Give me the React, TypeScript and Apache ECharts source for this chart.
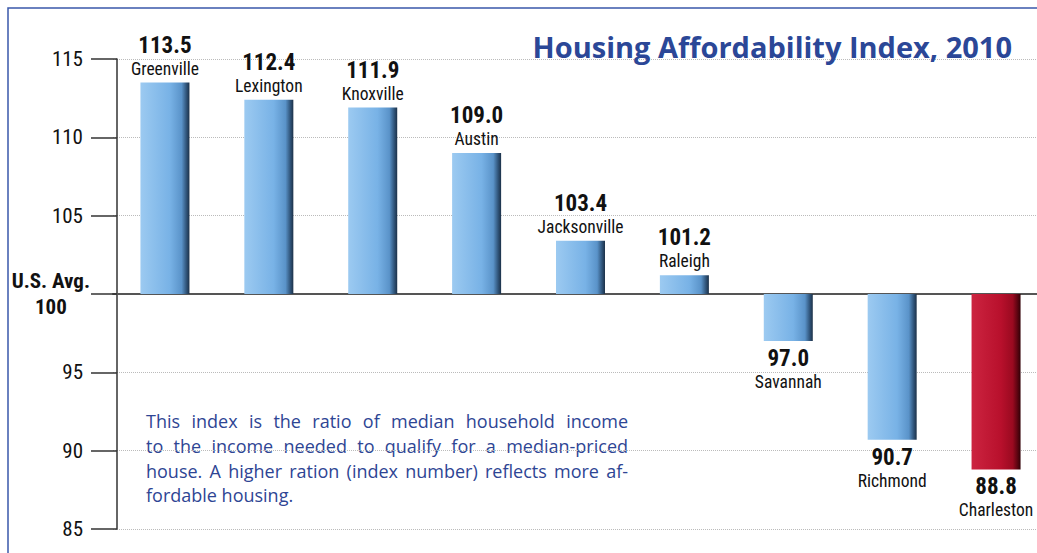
import React, { useEffect, useRef } from "react";
import * as echarts from "echarts";

const categories = ["Greenville", "Lexington", "Knoxville", "Austin", "Jacksonville", "Raleigh", "Savannah", "Richmond", "Charleston"];
const values = [113.5, 112.4, 111.9, 109.0, 103.4, 101.2, 97.0, 90.7, 88.8];
const usAverage = 100;
const highlighted = "Charleston";
const yMin = 85;
const yMax = 115;
const yStep = 5;
const titleText = "Housing Affordability Index, 2010";
const noteLines = [
  "This index is the ratio of median household income",
  "to the income needed to qualify for a median-priced",
  "house. A higher ration (index number) reflects more af-",
  "fordable housing.",
];

const NARROW = '"Roboto Condensed", "Liberation Sans Narrow", "Noto Sans", Roboto, sans-serif';
const STRETCH = "condensed";
const HUMAN = '"Open Sans", "Noto Sans", sans-serif';

const blueBar = new echarts.graphic.LinearGradient(0, 0, 1, 0, [
  { offset: 0, color: "#9ccaf1" },
  { offset: 0.6, color: "#78b2e6" },
  { offset: 0.84, color: "#5a93c9" },
  { offset: 0.94, color: "#2f5378" },
  { offset: 1, color: "#1c3148" },
]);
const redBar = new echarts.graphic.LinearGradient(0, 0, 1, 0, [
  { offset: 0, color: "#cc2440" },
  { offset: 0.6, color: "#b8102c" },
  { offset: 0.84, color: "#9a0a20" },
  { offset: 0.94, color: "#5a0410" },
  { offset: 1, color: "#300006" },
]);

function noteGraphics() {
  const noteLeft = 146;
  const noteWidth = 482;
  const noteTop = 409;
  const lineH = 24.7;
  const fontSize = 18;
  const ctx = document.createElement("canvas").getContext("2d");
  const items: any[] = [];
  noteLines.forEach((line, li) => {
    const y = noteTop + li * lineH;
    const words = line.split(" ");
    const last = li === noteLines.length - 1;
    if (!ctx || last || words.length < 2) {
      items.push({
        type: "text",
        x: noteLeft,
        y,
        silent: true,
        style: { text: line, fontFamily: HUMAN, fontSize, lineHeight: lineH, fill: "#2e4594", verticalAlign: "top" },
      });
      return;
    }
    ctx.font = fontSize + "px " + HUMAN;
    const widths = words.map((w) => ctx.measureText(w).width);
    const total = widths.reduce((a, b) => a + b, 0);
    const gap = Math.max((noteWidth - total) / (words.length - 1), 3);
    let x = noteLeft;
    words.forEach((w, wi) => {
      items.push({
        type: "text",
        x,
        y,
        silent: true,
        style: { text: w, fontFamily: HUMAN, fontSize, lineHeight: lineH, fill: "#2e4594", verticalAlign: "top" },
      });
      x += widths[wi] + gap;
    });
  });
  return items;
}

export default function App() {
  const ref = useRef<HTMLDivElement>(null);
  useEffect(() => {
    if (!ref.current) return;
    const chart = echarts.init(ref.current, undefined, { renderer: "svg" });
    const data = values.map((v, i) => {
      const d = +(v - usAverage).toFixed(2);
      return {
        value: d,
        itemStyle: { color: categories[i] === highlighted ? redBar : blueBar },
        label: { position: d >= 0 ? "top" : "bottom" },
      };
    });
    chart.setOption({
      animation: false,
      backgroundColor: "#ffffff",
      title: {
        text: titleText,
        right: 20,
        top: 27,
        textStyle: { fontFamily: HUMAN, fontWeight: "bold", fontSize: 29, color: "#2b4797" },
      },
      grid: { left: 113, right: -11, top: 59, bottom: 24, containLabel: false, outerBoundsMode: "none" },
      xAxis: {
        type: "category",
        data: categories,
        axisLine: { lineStyle: { color: "#555", width: 2 } },
        axisTick: { show: false },
        axisLabel: { show: false },
      },
      yAxis: {
        type: "value",
        min: yMin - usAverage,
        max: yMax - usAverage,
        interval: yStep,
        offset: -4,
        axisLine: { show: true, lineStyle: { color: "#333", width: 1.5 } },
        axisTick: { show: true, length: 26, lineStyle: { color: "#333", width: 1.5 } },
        splitLine: { lineStyle: { type: "dotted", color: "#bbbbbb", width: 1 } },
        axisLabel: {
          margin: 27,
          formatter: (v: number) =>
            v === 0 ? "{a|U.S. Avg.}\n{b|" + usAverage + "}" : "{n|" + (v + usAverage) + "}",
          rich: {
            n: { fontFamily: NARROW, fontStyle: STRETCH, fontSize: 21, color: "#111", padding: [0, 7, 0, 0] },
            a: { fontFamily: NARROW, fontStyle: STRETCH, fontSize: 21, fontWeight: "bold", color: "#111", lineHeight: 26 },
            b: { fontFamily: NARROW, fontStyle: STRETCH, fontSize: 21, fontWeight: "bold", color: "#111", lineHeight: 26, align: "center" },
          },
        },
      },
      series: [
        {
          type: "bar",
          barWidth: 49,
          data,
          label: {
            show: true,
            distance: 4,
            formatter: (p: any) => "{v|" + values[p.dataIndex].toFixed(1) + "}\n{c|" + categories[p.dataIndex] + "}",
            rich: {
              v: { fontFamily: NARROW, fontStyle: STRETCH, fontSize: 23, fontWeight: "bold", color: "#111", lineHeight: 27, align: "center" },
              c: { fontFamily: NARROW, fontStyle: STRETCH, fontSize: 17.5, color: "#111", lineHeight: 20, align: "center" },
            },
          },
        },
      ],
      graphic: [
        {
          type: "rect",
          silent: true,
          shape: { x: 8, y: 8, width: 1060, height: 580 },
          style: { fill: "none", stroke: "#3a58ab", lineWidth: 1.5 },
        },
        ...noteGraphics(),
      ],
    });
    return () => chart.dispose();
  }, []);
  return <div ref={ref} style={{ position: "fixed", left: 0, top: 0, width: 1037, height: 553 }} />;
}
